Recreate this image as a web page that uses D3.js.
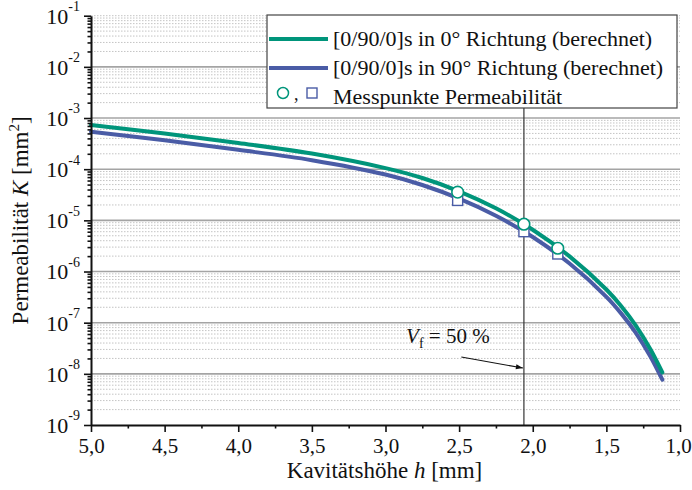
<!DOCTYPE html>
<html>
<head>
<meta charset="utf-8">
<script src="https://cdn.jsdelivr.net/npm/d3@7"></script>
<style>
  html, body { margin: 0; padding: 0; background: #fff; }
  svg { display: block; }
  text { font-family: "Liberation Serif", "Times New Roman", serif; fill: #111; }
</style>
</head>
<body>
<svg id="chart" width="692" height="490"></svg>
<script>
// Cavity height h [mm] and computed permeability K [mm²]
const hCurve = [5.0, 4.5, 4.0, 3.5, 3.0, 2.75, 2.5, 2.25, 2.0, 1.75, 1.5, 1.4, 1.3, 1.2, 1.12];
const kDir0 = [7.31e-4, 4.98e-4, 3.25e-4, 2.02e-4, 1.05e-4, 6.73e-5, 3.70e-5, 1.72e-5, 6.56e-6, 1.98e-6, 4.45e-7, 2.12e-7, 8.79e-8, 3.0e-8, 1.07e-8];
const kDir90 = [5.41e-4, 3.66e-4, 2.39e-4, 1.50e-4, 7.87e-5, 4.91e-5, 2.66e-5, 1.23e-5, 4.72e-6, 1.43e-6, 3.20e-7, 1.52e-7, 6.34e-8, 2.16e-8, 7.67e-9];

// Measured permeability points
const hMeas = [2.51, 2.06, 1.83];
const kMeas0 = [3.56e-5, 8.4e-6, 2.85e-6];
const kMeas90 = [2.45e-5, 6.0e-6, 2.2e-6];

// Axis ticks
const xTicks = [5.0, 4.5, 4.0, 3.5, 3.0, 2.5, 2.0, 1.5, 1.0];
const xMinor = [4.75, 4.25, 3.75, 3.25, 2.75, 2.25, 1.75, 1.25];
const yExponents = [-1, -2, -3, -4, -5, -6, -7, -8, -9];

// Fibre volume fraction marker
const hVf50 = 2.06;
const vfLabel = "= 50 %";

const legendLabels = [
  "[0/90/0]s in 0° Richtung (berechnet)",
  "[0/90/0]s in 90° Richtung (berechnet)",
  "Messpunkte Permeabilität"
];

const colGreen = "#00957b";
const colBlue = "#4a5ca6";

const svg = d3.select("#chart");
const plot = { left: 91, right: 680, top: 15.7, bottom: 425 };

const x = d3.scaleLinear().domain([5.0, 1.0]).range([plot.left, plot.right]);
const y = d3.scaleLog().domain([1e-9, 1e-1]).range([plot.bottom, plot.top]);

const majors = yExponents.map(e => Math.pow(10, e));
const minors = [];
for (let e = -9; e < -1; e++) {
  for (let m = 2; m <= 9; m++) minors.push(m * Math.pow(10, e));
}

// Grid
const grid = svg.append("g");
grid.selectAll("line.minor").data(minors).join("line")
  .attr("x1", plot.left).attr("x2", plot.right)
  .attr("y1", d => y(d)).attr("y2", d => y(d))
  .attr("stroke", "#c4c4c4").attr("stroke-width", 1)
  .attr("stroke-dasharray", "1.5,1.5");
grid.selectAll("line.major").data(majors.filter(d => d > 1e-9 && d < 1e-1)).join("line")
  .attr("x1", plot.left).attr("x2", plot.right)
  .attr("y1", d => y(d)).attr("y2", d => y(d))
  .attr("stroke", "#a4a4a4").attr("stroke-width", 1.6);
grid.append("line")
  .attr("x1", plot.left).attr("x2", plot.right)
  .attr("y1", y(1e-1)).attr("y2", y(1e-1))
  .attr("stroke", "#c4c4c4").attr("stroke-width", 1)
  .attr("stroke-dasharray", "1.5,1.5");

// Vertical line at Vf = 50 %
svg.append("line")
  .attr("x1", x(hVf50)).attr("x2", x(hVf50))
  .attr("y1", plot.top).attr("y2", plot.bottom)
  .attr("stroke", "#333").attr("stroke-width", 1.2);

// Curves
const line = d3.line().x(d => x(d[0])).y(d => y(d[1])).curve(d3.curveCatmullRom.alpha(0.5));
svg.append("path").datum(hCurve.map((h, i) => [h, kDir90[i]]))
  .attr("d", line).attr("fill", "none")
  .attr("stroke", colBlue).attr("stroke-width", 4).attr("stroke-linecap", "round");
svg.append("path").datum(hCurve.map((h, i) => [h, kDir0[i]]))
  .attr("d", line).attr("fill", "none")
  .attr("stroke", colGreen).attr("stroke-width", 4).attr("stroke-linecap", "round");

// Measurement points
const sq = 10;
svg.selectAll("rect.meas").data(hMeas.map((h, i) => [h, kMeas90[i]])).join("rect")
  .attr("x", d => x(d[0]) - sq / 2).attr("y", d => y(d[1]) - sq / 2)
  .attr("width", sq).attr("height", sq)
  .attr("fill", "#fff").attr("stroke", colBlue).attr("stroke-width", 1.4);
svg.selectAll("circle.meas").data(hMeas.map((h, i) => [h, kMeas0[i]])).join("circle")
  .attr("cx", d => x(d[0])).attr("cy", d => y(d[1])).attr("r", 5.8)
  .attr("fill", "#fff").attr("stroke", colGreen).attr("stroke-width", 1.6);

// Annotation
const defs = svg.append("defs");
defs.append("marker").attr("id", "arrow")
  .attr("viewBox", "0 0 10 10").attr("refX", 10).attr("refY", 5)
  .attr("markerWidth", 10).attr("markerHeight", 7).attr("orient", "auto")
  .attr("markerUnits", "userSpaceOnUse")
  .append("path").attr("d", "M0,1.5 L10,5 L0,8.5 Z").attr("fill", "#111");
svg.append("line")
  .attr("x1", x(2.485)).attr("y1", y(Math.pow(10, -7.671)))
  .attr("x2", x(hVf50) - 1).attr("y2", y(Math.pow(10, -7.886)))
  .attr("stroke", "#111").attr("stroke-width", 1.1)
  .attr("marker-end", "url(#arrow)");
const vf = svg.append("text")
  .attr("x", x(2.86)).attr("y", y(Math.pow(10, -7.40)))
  .attr("font-size", 21);
vf.append("tspan").attr("font-style", "italic").text("V");
vf.append("tspan").attr("font-size", 14).attr("dy", 5).text("f");
vf.append("tspan").attr("dy", -5).text(" " + vfLabel);

// Axes
const axisStyle = g => {
  g.select(".domain").attr("stroke", "#111").attr("stroke-width", 2);
  g.selectAll(".tick line").attr("stroke", "#111").attr("stroke-width", 1.6);
};

const yAxis = svg.append("g").attr("transform", `translate(${plot.left},0)`)
  .call(d3.axisLeft(y).tickValues(majors).tickSize(7).tickSizeOuter(0).tickFormat(() => ""))
  .call(axisStyle);
yAxis.selectAll(".tick").each(function(d) {
  const t = d3.select(this).append("text")
    .attr("x", -11).attr("y", 0).attr("text-anchor", "end")
    .attr("font-size", 22).attr("fill", "#111").attr("font-family", "Liberation Serif, serif");
  t.append("tspan").attr("dy", "0.34em").text("10");
  t.append("tspan").attr("font-size", 14).attr("dy", "-0.9em")
    .text("-" + Math.round(-Math.log10(d)));
});
svg.append("g").attr("transform", `translate(${plot.left},0)`)
  .call(d3.axisLeft(y).tickValues(minors).tickSize(3.5).tickFormat(() => ""))
  .call(g => g.select(".domain").remove())
  .call(g => g.selectAll(".tick line").attr("stroke", "#111").attr("stroke-width", 1.6));

const xAxis = svg.append("g").attr("transform", `translate(0,${plot.bottom})`)
  .call(d3.axisBottom(x).tickValues(xTicks).tickSize(7).tickSizeOuter(0)
    .tickFormat(d => d3.format(".1f")(d).replace(".", ",")))
  .call(axisStyle);
xAxis.selectAll(".tick text")
  .attr("font-size", 21).attr("font-family", "Liberation Serif, serif")
  .attr("fill", "#111").attr("dy", "0.85em")
  .attr("dx", d => d === 1.0 ? -2 : 0);

svg.append("g").attr("transform", `translate(0,${plot.bottom})`)
  .call(d3.axisBottom(x).tickValues(xMinor).tickSize(3.5).tickFormat(() => ""))
  .call(g => g.select(".domain").remove())
  .call(g => g.selectAll(".tick line").attr("stroke", "#111").attr("stroke-width", 1.6));

// Axis titles
const xt = svg.append("text").attr("x", (plot.left + plot.right) / 2 - 1).attr("y", 478)
  .attr("text-anchor", "middle").attr("font-size", 23);
xt.append("tspan").text("Kavitätshöhe ");
xt.append("tspan").attr("font-style", "italic").text("h");
xt.append("tspan").text(" [mm]");

const yt = svg.append("text")
  .attr("transform", `translate(28,${(plot.top + plot.bottom) / 2}) rotate(-90)`)
  .attr("text-anchor", "middle").attr("font-size", 23);
yt.append("tspan").text("Permeabilität ");
yt.append("tspan").attr("font-style", "italic").text("K");
yt.append("tspan").text(" [mm");
yt.append("tspan").attr("font-size", 15).attr("dy", -9).text("2");
yt.append("tspan").attr("dy", 9).text("]");

// Legend
const lg = svg.append("g").attr("transform", "translate(267,15)");
lg.append("rect").attr("x", 0).attr("y", 0).attr("width", 410).attr("height", 93)
  .attr("fill", "#fff").attr("stroke", "#444").attr("stroke-width", 1.2);
[colGreen, colBlue].forEach((c, i) => {
  lg.append("line").attr("x1", 2).attr("x2", 61)
    .attr("y1", 24 + i * 29).attr("y2", 24 + i * 29)
    .attr("stroke", c).attr("stroke-width", 4);
});
lg.selectAll("text.lbl").data(legendLabels).join("text")
  .attr("x", 66).attr("y", (d, i) => 31 + i * 29)
  .attr("font-size", 22).text(d => d);
lg.append("circle").attr("cx", 16).attr("cy", 78).attr("r", 5.5)
  .attr("fill", "#fff").attr("stroke", colGreen).attr("stroke-width", 1.5);
lg.append("text").attr("x", 27).attr("y", 85).attr("font-size", 18).text(",");
lg.append("rect").attr("x", 40).attr("y", 73).attr("width", 10).attr("height", 10)
  .attr("fill", "#fff").attr("stroke", colBlue).attr("stroke-width", 1.4);
</script>
</body>
</html>
